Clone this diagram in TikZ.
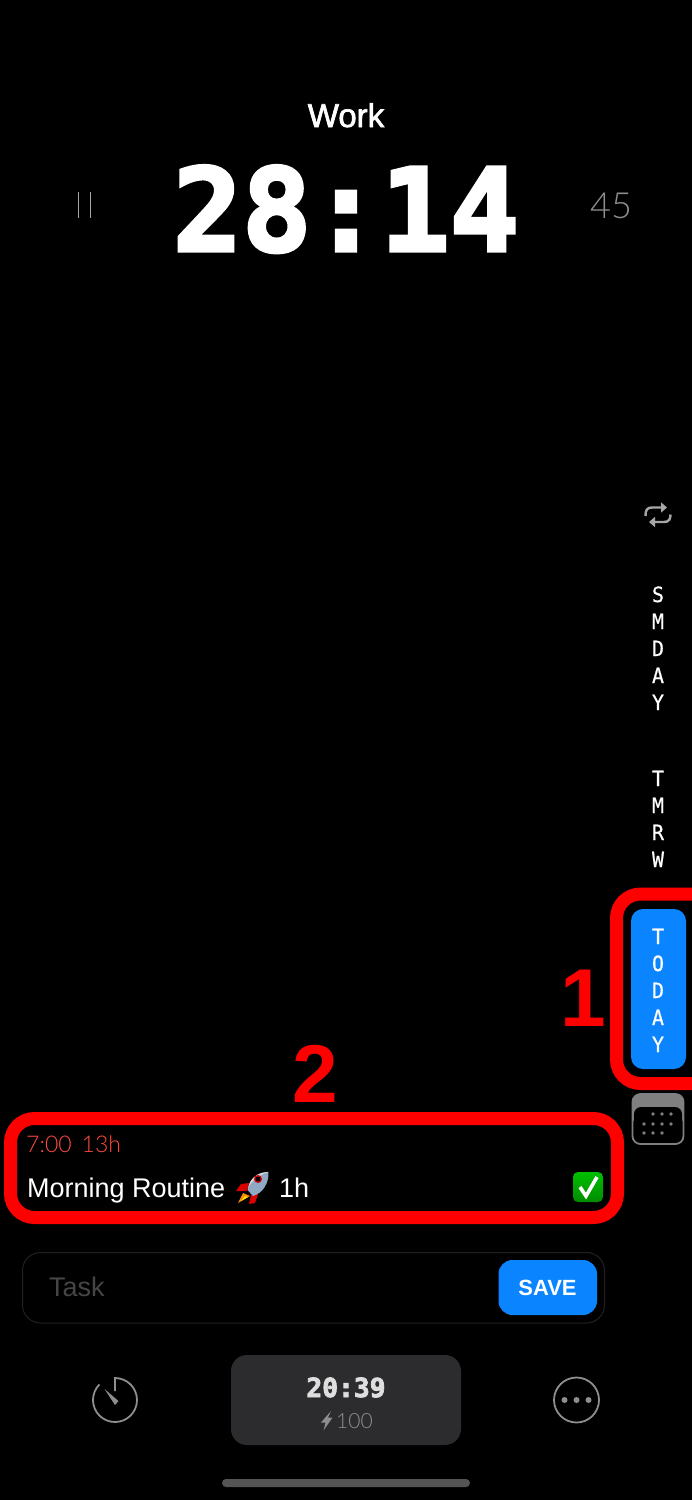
\documentclass[tikz,border=0pt]{standalone}
\usepackage{fontspec}
\setmainfont{Liberation Sans}
\newfontfamily\monofont[FakeStretch=0.95,FakeBold=0.6]{DejaVu Sans Mono}
\newfontfamily\clockfont[UprightFont=* Bold,FakeBold=3]{DejaVu Sans Mono}
\newfontfamily\workfont[FakeBold=2]{Liberation Sans}
\newfontfamily\thinfont[UprightFont=* Light]{Lato}
\usetikzlibrary{arrows.meta,positioning}
\definecolor{iosblue}{HTML}{0A84FF}
\definecolor{markred}{HTML}{FF0000}
\definecolor{icongray}{HTML}{8E8E8E}
\definecolor{calgray}{HTML}{7F7F7F}
\definecolor{tilegray}{HTML}{2C2C2E}
\definecolor{timered}{HTML}{FF4A40}
\definecolor{hullblue}{HTML}{8FA9C4}
\tikzset{
  txt/.style={inner sep=0pt, anchor=base west, text=white},
  midtxt/.style={inner sep=0pt, anchor=base, text=white},
  sideletter/.style={midtxt, font=\monofont\fontsize{21}{21}\selectfont},
  markbox/.style={draw=markred, line width=13pt, rounded corners=24pt},
  marknum/.style={midtxt, text=markred, font=\bfseries\fontsize{82}{82}\selectfont},
  icon/.style={draw=icongray, line width=1.8pt},
}
\begin{document}
\begin{tikzpicture}[x=1pt,y=-1pt]
\useasboundingbox (0,0) rectangle (692,1500);
\fill[black] (0,0) rectangle (692,1500);

% timer at the top
\node[midtxt, font=\workfont\fontsize{33}{33}\selectfont] (title) at (346,127) {Work};
\node[midtxt, font=\clockfont\fontsize{115}{115}\selectfont] (clock) at (346,251) {28:14};
\draw[white!65!black, line width=0.8pt] (78.5,192) -- (78.5,218) (90.5,192) -- (90.5,218);
\node[midtxt, text=icongray, font=\thinfont\fontsize{36}{36}\selectfont] (minutes) at (611,218) {45};

% right side column
\draw[draw=white!65!black, line width=2.4pt, -{Triangle[length=6pt,width=10pt]}] (645.5,516) .. controls (645.5,510) and (647,507.5) .. (652,507.5) -- (667,507.5);
\draw[draw=white!65!black, line width=2.4pt, -{Triangle[length=6pt,width=10pt]}] (670.5,514.5) .. controls (670.5,519) and (669,522) .. (664,522) -- (649,522);
\foreach \l/\y in {S/602,M/629,D/656,A/683,Y/710,T/786,M/813,R/840,W/867} {
  \node[sideletter] (side\y) at (658,\y) {\l};
}
\fill[iosblue] (631,909) [rounded corners=12pt] rectangle (686,1069);
\foreach \l/\y in {T/944,O/971,D/998,A/1025,Y/1052} {
  \node[sideletter] (today\y) at (658,\y) {\l};
}
\draw[markbox] (692,894) -- (616.5,894) -- (616.5,1083.5) -- (692,1083.5);
\node[marknum] (one) at (583,1026) {1};

% calendar
\fill[calgray, rounded corners=8pt] (632.5,1094) rectangle (683.5,1125);
\fill[black, rounded corners=7pt] (634,1107) rectangle (682,1143);
\draw[icon, draw=calgray, rounded corners=8pt] (632.5,1094) rectangle (683.5,1144);
\foreach \x/\y in {653/1114,662/1114,671/1114,644/1124,653/1124,662/1124,671/1124,644/1133,653/1133,662/1133} {
  \fill[calgray] (\x,\y) circle (1.8pt);
}

% task row
\node[marknum] (two) at (315,1102) {2};
\draw[markbox] (10.5,1118.5) rectangle (617.5,1217.5);
\node[txt, text=timered, font=\thinfont\fontsize{23}{23}\selectfont] (when) at (26,1152) {7:00\hspace{10pt}13h};
\node[txt, font=\fontsize{27}{27}\selectfont] (taskname) at (27,1197) {Morning Routine};
\node[txt, font=\fontsize{27}{27}\selectfont] (taskhours) at (279,1197) {1h};

% rocket
\fill[red!85!black] (236,1191) -- (241,1184) -- (249,1183) -- (247,1191) -- cycle;
\fill[red!85!black] (249,1204) -- (255,1203) -- (258,1194) -- (251,1195) -- cycle;
\fill[orange!90!yellow] (238,1203) -- (243,1193) -- (250,1196) -- cycle;
\fill[yellow!90!orange] (241,1201) -- (245,1196) -- (248,1197) -- cycle;
\fill[hullblue] (268.5,1172) .. controls (258,1172) and (250,1178) .. (247.5,1190) -- (253,1196) .. controls (263,1193) and (269,1183) .. cycle;
\fill[white!85!black] (268.5,1172) .. controls (258,1172) and (250,1178) .. (248,1188) .. controls (252,1180) and (259,1175) .. cycle;
\fill[red!80!black] (258,1179) circle (4pt);
\fill[black] (258,1179) circle (2.4pt);

% check mark
\shade[top color=green!75!black, bottom color=green!55!black, rounded corners=5pt] (573,1172) rectangle (603,1202);
\draw[white, line width=3.6pt] (580,1187) -- (586,1196) -- (597,1177);

% input field
\draw[white!13!black, line width=1pt, rounded corners=18pt] (22.5,1252.5) rectangle (604.5,1323);
\node[txt, text=white!27!black, font=\fontsize{27}{27}\selectfont] (placeholder) at (49,1296) {Task};
\fill[iosblue, rounded corners=14pt] (498.5,1260) rectangle (597,1315);
\node[midtxt, font=\bfseries\fontsize{22}{22}\selectfont] (save) at (547.5,1295) {SAVE};

% bottom bar
\draw[icon] (115,1391) -- (115,1378) arc (-90:225:22);
\fill[icongray] (104.5,1389) -- (118.5,1401) -- (115,1405) -- cycle;
\fill[tilegray, rounded corners=16pt] (231,1355) rectangle (461,1445);
\node[midtxt, text=white!87!black, font=\clockfont\fontsize{26.3}{26.3}\selectfont] (remaining) at (346,1397) {20:39};
\fill[icongray] (331,1411) -- (321,1422.5) -- (325.5,1422.5) -- (323.5,1430.5) -- (332.5,1417.5) -- (328,1417.5) -- cycle;
\node[txt, text=icongray, font=\thinfont\fontsize{21}{21}\selectfont] (energy) at (336,1428) {100};
\draw[icon] (576.5,1400) circle (22.5);
\foreach \x in {564.5,576.5,588.5} {
  \fill[icongray] (\x,1400) circle (3pt);
}
\fill[white!33!black, rounded corners=4pt] (222,1479) rectangle (470,1487);
\end{tikzpicture}
\end{document}
